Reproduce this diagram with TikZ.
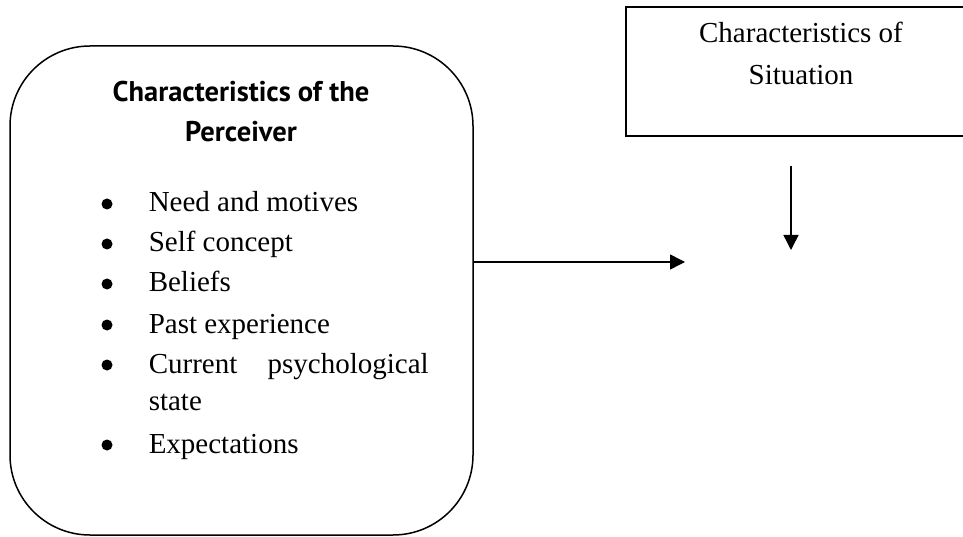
\documentclass[tikz,border=0pt]{standalone}
\usepackage{fontspec}
\setmainfont{Liberation Serif}
\newfontfamily\titlefont{PT Sans}
\usetikzlibrary{arrows.meta}
\begin{document}
\begin{tikzpicture}[x=1pt,y=1pt,
  line width=1.5pt,
  body/.style={inner sep=0pt,anchor=base west,font=\fontsize{29}{40}\selectfont},
  bul/.style={circle,fill=black,draw=none,inner sep=0pt,minimum size=11pt},
  ttl/.style={inner sep=0pt,anchor=base,font=\titlefont\bfseries\fontsize{28.5}{40}\selectfont},
  arr/.style={-{Triangle[length=15pt,width=15pt]}},
]
\useasboundingbox (0,0) rectangle (963,536);
\clip (0,0) rectangle (963,536);
% rounded box
\draw[rounded corners=80pt] (10,1) rectangle (473,490);
\node[inner sep=0pt] (perceiver) at (241.5,245.5) {};
% title
\node[ttl] (title) at (241,434) {Characteristics of the};
\node[ttl] (title2) at (241,394) {Perceiver};
% bullets
\foreach \i/\y in {1/324,2/284,3/244,4/203,5/163,6/83}{
  \node[bul] (b\i) at (107,\y+8) {};
}
\node[body] (t1) at (148,324) {Need and motives};
\node[body] (t2) at (148,284) {Self concept};
\node[body] (t3) at (148,244) {Beliefs};
\node[body] (t4) at (148,203) {Past experience};
\node[body] (t5) at (148,163) {\hbox to 280pt{Current\hfill psychological}};
\node[body] (t5b) at (148,126) {state};
\node[body] (t6) at (148,83) {Expectations};
% situation box
\draw (626,400) rectangle (975,529);
\node[inner sep=0pt,anchor=base,font=\fontsize{29}{42}\selectfont] (sit1) at (801,493) {Characteristics of};
\node[inner sep=0pt,anchor=base,font=\fontsize{29}{42}\selectfont] (sit2) at (801,451) {Situation};
\coordinate (hstart) at (473,274);
\coordinate (hend) at (685,274);
\coordinate (vstart) at (791,370);
\coordinate (vend) at (791,286);
\draw[arr] (hstart) -- (hend);
\draw[arr] (vstart) -- (vend);
\end{tikzpicture}
\end{document}
